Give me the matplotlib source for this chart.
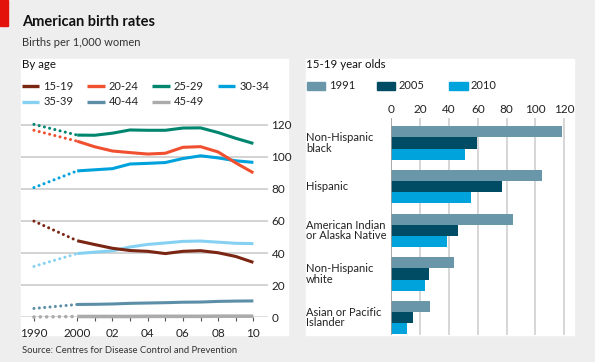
import numpy as np
import matplotlib
matplotlib.use("Agg")
import matplotlib.pyplot as plt
from matplotlib.lines import Line2D
from matplotlib.patches import Rectangle
import matplotlib.transforms as mtransforms

plt.rcParams['font.family'] = ['Lato', 'DejaVu Sans']

# Birth rates by age (births per 1,000 women)
years = [1990, 2000, 2001, 2002, 2003, 2004, 2005, 2006, 2007, 2008, 2009, 2010]
age_groups = ['15-19', '20-24', '25-29', '30-34', '35-39', '40-44', '45-49']
r15_19 = [59.9, 47.7, 45.3, 43.0, 41.6, 41.1, 39.7, 41.1, 41.5, 40.2, 37.9, 34.2]
r20_24 = [116.5, 109.7, 106.2, 103.6, 102.6, 101.7, 102.2, 105.9, 106.3, 103.0, 96.2, 90.0]
r25_29 = [120.2, 113.5, 113.4, 114.7, 116.7, 116.5, 116.5, 117.9, 118.0, 115.1, 111.5, 108.3]
r30_34 = [80.8, 91.2, 91.9, 92.6, 95.5, 95.9, 96.4, 98.9, 100.6, 99.3, 97.5, 96.5]
r35_39 = [31.7, 39.7, 40.6, 41.4, 43.8, 45.4, 46.3, 47.3, 47.5, 46.8, 46.1, 45.9]
r40_44 = [5.5, 8.0, 8.1, 8.3, 8.7, 8.9, 9.1, 9.4, 9.5, 9.9, 10.1, 10.2]
r45_49 = [0.2, 0.5, 0.5, 0.5, 0.5, 0.6, 0.6, 0.6, 0.6, 0.7, 0.7, 0.7]
age_colors = ['#7b2613', '#f0502f', '#00866f', '#00a2dc', '#86d1f2', '#5c8fa7', '#ababab']

# 15-19 year olds by race/ethnicity
groups = ['Non-Hispanic\nblack', 'Hispanic', 'American Indian\nor Alaska Native',
          'Non-Hispanic\nwhite', 'Asian or Pacific\nIslander']
bar_years = ['1991', '2005', '2010']
v1991 = [118.4, 104.7, 84.2, 43.5, 27.1]
v2005 = [59.5, 76.5, 46.0, 26.0, 15.0]
v2010 = [51.3, 55.5, 38.6, 23.4, 10.6]
bar_colors = ['#6a96a9', '#004c64', '#00a3db']

W, H = 595, 362
fig = plt.figure(figsize=(W / 100, H / 100), dpi=100, facecolor='#eeeeee')


def fx(px):
    return px / W


def fy(py):
    return 1 - py / H


def box(x0, y0, x1, y1):
    return [fx(x0), fy(y1), fx(x1) - fx(x0), fy(y0) - fy(y1)]


# panels and red tag (behind the axes)
fig.patches.append(Rectangle((fx(21), fy(335)), fx(288) - fx(21), fy(59) - fy(335),
                             transform=fig.transFigure, color='white', zorder=-5))
fig.patches.append(Rectangle((fx(306), fy(335)), fx(574) - fx(306), fy(59) - fy(335),
                             transform=fig.transFigure, color='white', zorder=-5))
fig.patches.append(Rectangle((0, fy(26)), fx(8), fy(0) - fy(26),
                             transform=fig.transFigure, color='#e3120b', zorder=-5))

fig.text(fx(22), fy(26.5), 'American birth rates', fontsize=10.5, fontweight='bold',
         color='#111111', va='baseline')
fig.text(fx(22), fy(45.5), 'Births per 1,000 women', fontsize=8, color='#333333', va='baseline')
fig.text(fx(22), fy(353), 'Source: Centres for Disease Control and Prevention', fontsize=6.8,
         color='#333333', va='baseline')

# ---------------- left: lines by age ----------------
fig.text(fx(22), fy(68.5), 'By age', fontsize=8.3, color='#111111', va='baseline')

leg_x = [21.7, 87.3, 152.3, 217.7]
leg_y = [86, 101.5]
for i, (lab, col) in enumerate(zip(age_groups, age_colors)):
    lx = leg_x[i % 4]
    ly = leg_y[i // 4]
    fig.add_artist(Line2D([fx(lx), fx(lx + 17.5)], [fy(ly), fy(ly)], color=col, lw=2.4,
                          transform=fig.transFigure, solid_capstyle='butt'))
    fig.text(fx(lx + 21.6), fy(ly), lab, fontsize=8, color='#222222', va='center')


def xpos(y):
    # the 1990s are squeezed on the axis
    y = np.asarray(y, dtype=float)
    return np.where(y < 2000, (y - 2000) * 0.2455, y - 2000)


ax = fig.add_axes(box(21, 116, 268, 317.3))
ax.set_xlim(-3.19, 10.83)
ax.set_ylim(0, 125.4)
for s in ax.spines.values():
    s.set_visible(False)
ax.set_facecolor('none')

for g in range(20, 121, 20):
    ax.axhline(g, color='#cccccc', lw=1.2, zorder=1)
ax.axhline(0, color='#555555', lw=1.0, zorder=2)

xs = xpos(years)
series = [r15_19, r20_24, r25_29, r30_34, r35_39, r40_44, r45_49]
order = [6, 5, 4, 0, 3, 1, 2]
for k in order:
    vals = series[k]
    col = age_colors[k]
    lw = 2.6 if k == 6 else 2.2
    ax.plot(xs[:2], vals[:2], color=col, lw=lw, linestyle=(0, (0.01, 1.75)),
            dash_capstyle='round', zorder=3, clip_on=False)
    ax.plot(xs[1:], vals[1:], color=col, lw=lw, solid_capstyle='butt', zorder=3,
            clip_on=False)

tick_years = [1990] + list(range(2000, 2011))
tick_labels = ['1990', '2000', '', '02', '', '04', '', '06', '', '08', '', '10']
ax.set_xticks(xpos(tick_years))
ax.set_xticklabels(tick_labels)
ax.tick_params(axis='x', length=3, width=0.8, color='#555555', pad=4.5,
               labelsize=8.5, labelcolor='#222222')
ax.yaxis.tick_right()
ax.set_yticks(range(0, 121, 20))
ax.tick_params(axis='y', length=0, pad=2.5, labelsize=8.5, labelcolor='#222222')
for t in ax.get_yticklabels():
    t.set_horizontalalignment('left')

# ---------------- right: bars for 15-19 year olds ----------------
fig.text(fx(306), fy(68.5), '15-19 year olds', fontsize=8.3, color='#111111', va='baseline')
patch_x = [306.7, 376.7, 449]
for lab, col, px in zip(bar_years, bar_colors, patch_x):
    fig.patches.append(Rectangle((fx(px), fy(89.5)), fx(18.5), fy(0) - fy(8),
                                 transform=fig.transFigure, color=col))
    fig.text(fx(px + 22), fy(85.5), lab, fontsize=8, color='#222222', va='center')

bx = fig.add_axes(box(391.3, 118, 567.2, 334.5))
bx.set_xlim(0, 122)
bx.set_ylim(4.387, -0.573)
for s in bx.spines.values():
    s.set_visible(False)
bx.set_facecolor('none')
for g in range(20, 121, 20):
    bx.axvline(g, color='#d0d0d0', lw=1.2, zorder=1)
bx.axvline(0, color='#9a9a9a', lw=1.2, zorder=3)

centers = np.arange(len(groups))
bh = 0.256
for j, (vals, col) in enumerate(zip([v1991, v2005, v2010], bar_colors)):
    bx.barh(centers + (j - 1) * bh, vals, height=bh, color=col, zorder=2)

bx.xaxis.tick_top()
bx.set_xticks(range(0, 121, 20))
bx.tick_params(axis='x', length=0, pad=2, labelsize=8.5, labelcolor='#222222')
bx.set_yticks([])

trans = mtransforms.blended_transform_factory(fig.transFigure, bx.transData)
for c, lab in zip(centers, groups):
    fig.text(fx(306), c, lab, transform=trans, fontsize=8, color='#222222',
             va='center', ha='left', linespacing=0.95)

fig.savefig('out.png', dpi=100, facecolor=fig.get_facecolor())
